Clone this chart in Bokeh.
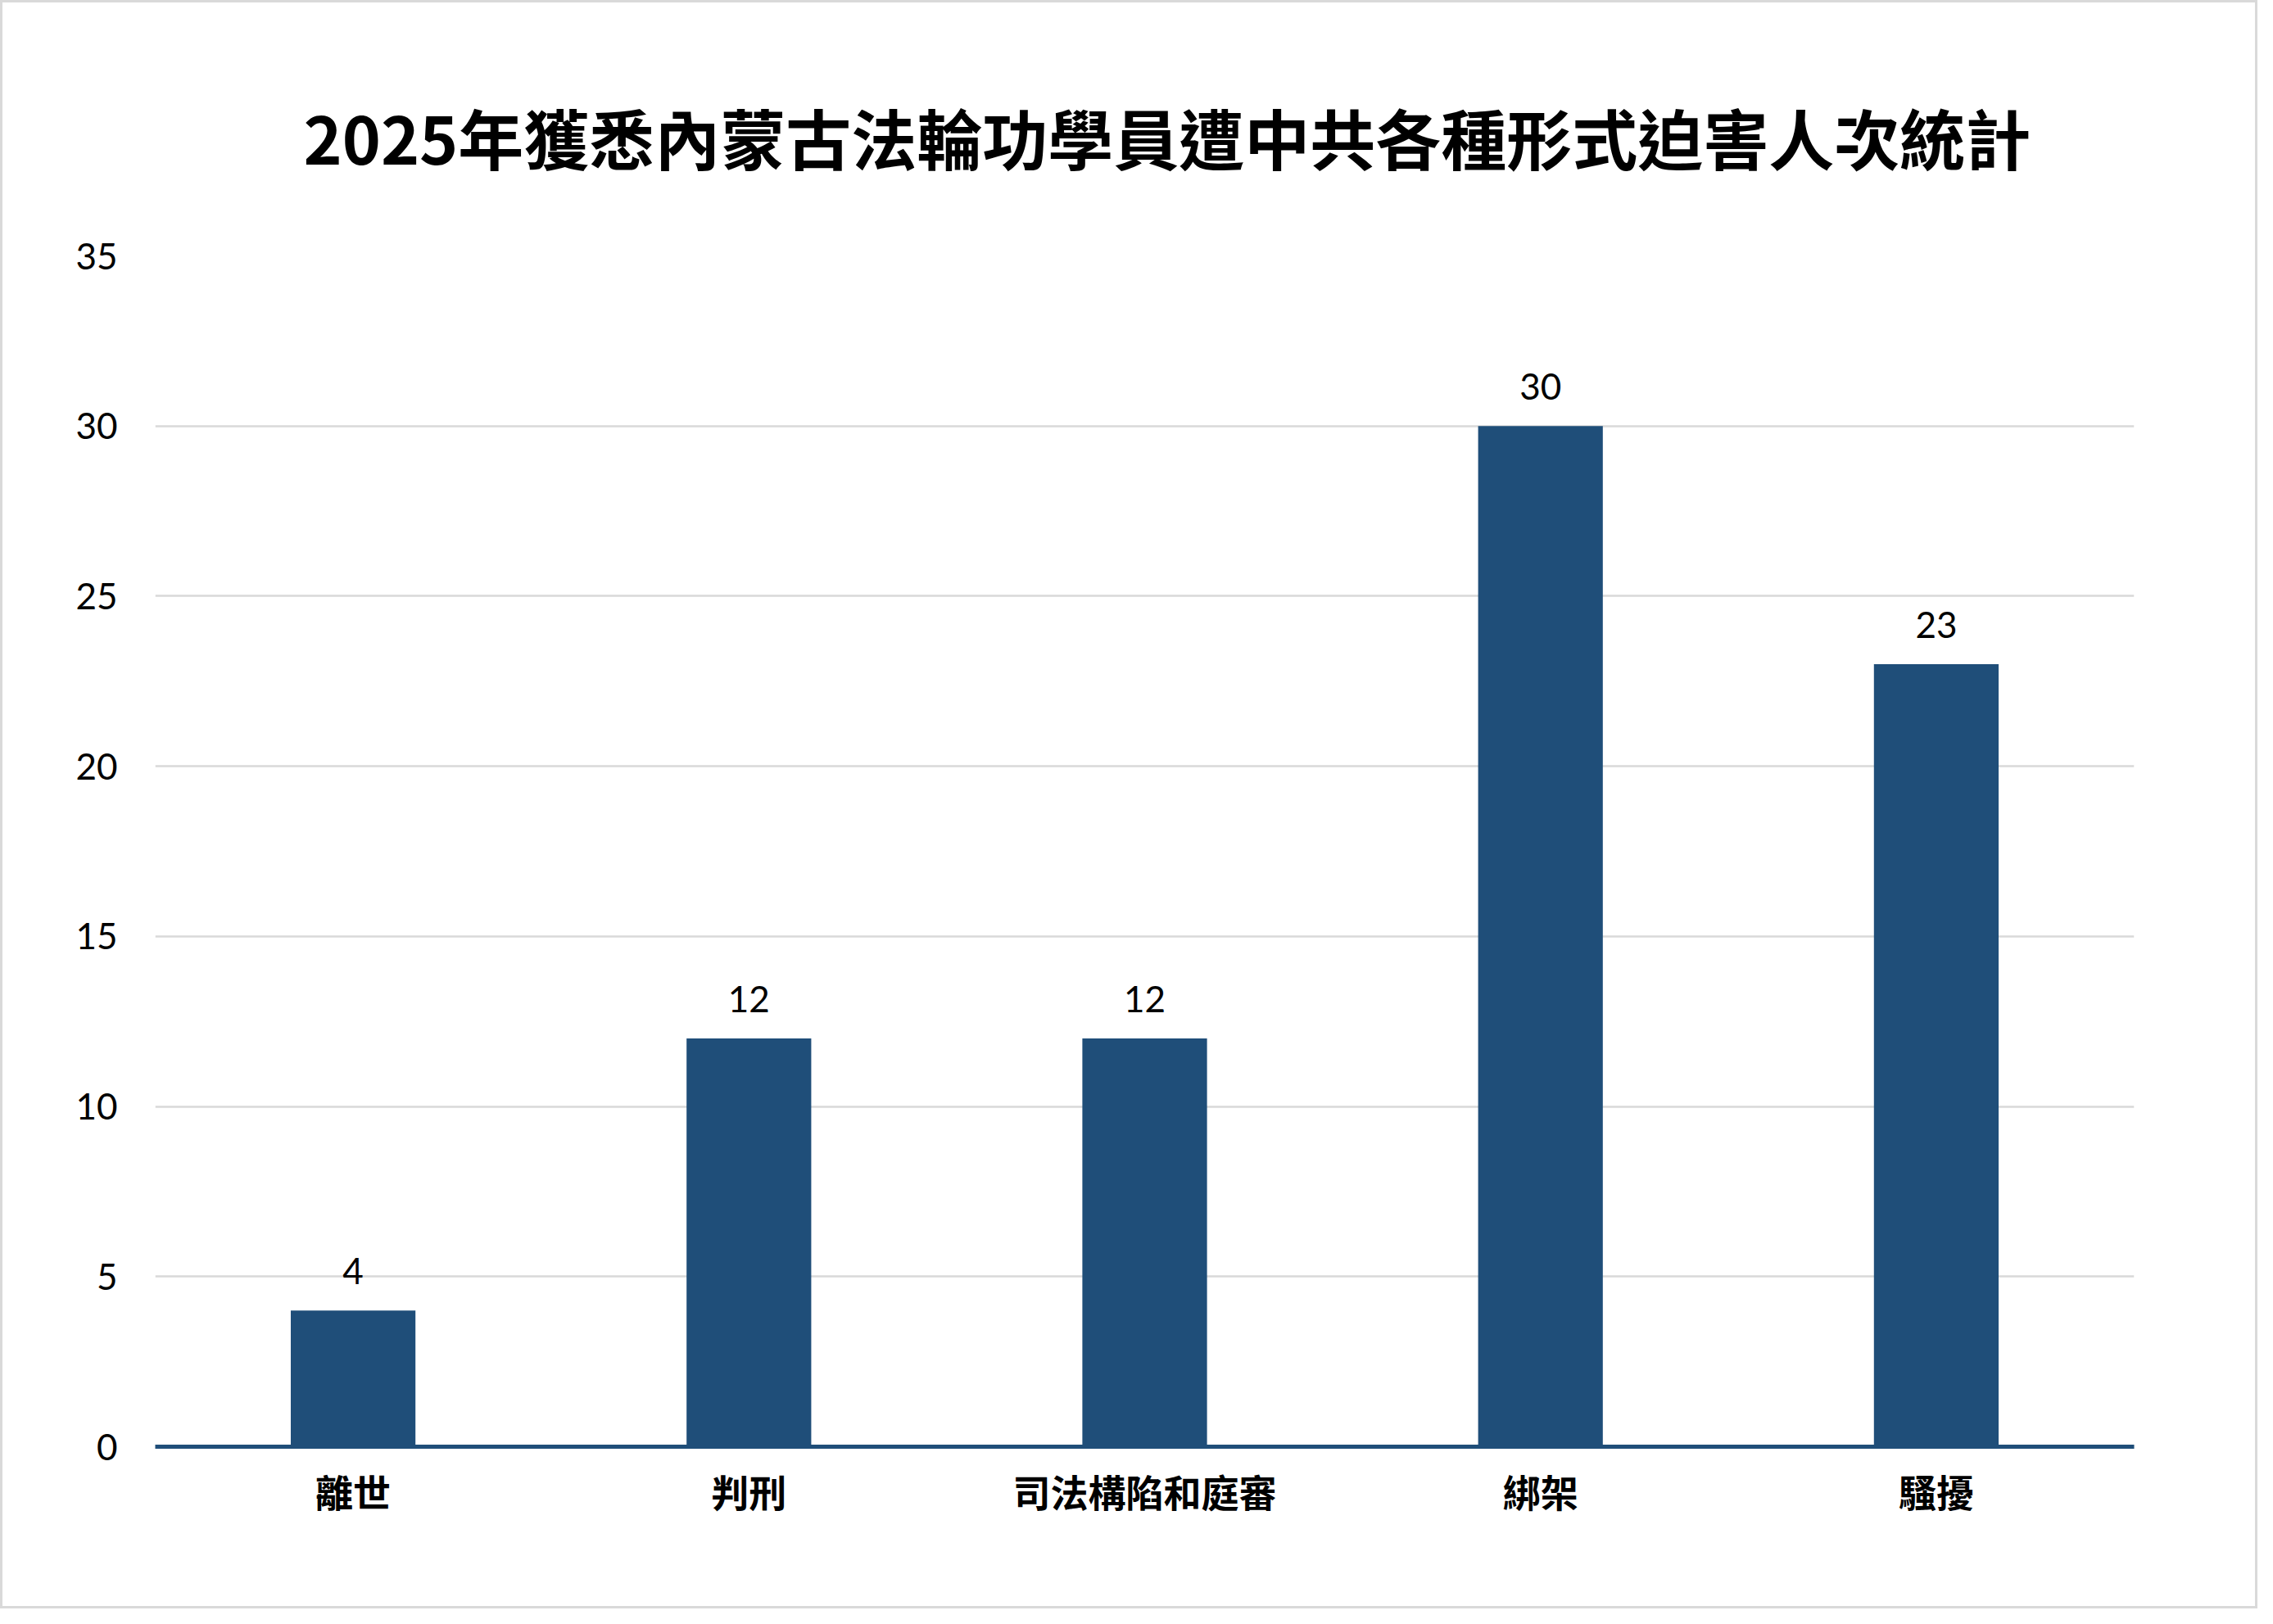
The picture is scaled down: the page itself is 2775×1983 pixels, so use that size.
from bokeh.plotting import figure
from bokeh.models import ColumnDataSource, FactorRange, FixedTicker, LabelSet, Title
from bokeh.core.properties import value
from bokeh.embed import file_html
from bokeh.resources import INLINE

categories = ["離世", "判刑", "司法構陷和庭審", "綁架", "騷擾"]
counts = [4, 12, 12, 30, 23]
y_ticks = [0, 5, 10, 15, 20, 25, 30, 35]
title_text = "2025年獲悉內蒙古法輪功學員遭中共各種形式迫害人次統計"

BAR = "#1F4E79"
GRID = "#D9D9D9"

source = ColumnDataSource(dict(cat=categories, val=counts, lbl=[str(v) for v in counts]))

p = figure(
    x_range=FactorRange(*categories),
    y_range=(0, 35),
    width=2756, height=1964,
    output_backend="svg", toolbar_location=None,
    min_border_left=186, min_border_right=154,
    min_border_top=309, min_border_bottom=201,
)
p.styles = {"border": "3px solid #D9D9D9", "box-sizing": "border-box"}
p.outline_line_color = None
p.background_fill_color = "white"
p.border_fill_color = "white"

p.vbar(x="cat", top="val", width=0.315, source=source, fill_color=BAR, line_color=None)

labels = LabelSet(x="cat", y="val", text="lbl", source=source,
                  text_align="center", text_baseline="middle",
                  y_offset=48, text_font=value("Lato"), text_font_size=value("44px"),
                  text_color=value("black"))
p.add_layout(labels)

t = Title(text=title_text, align="left", offset=181, standoff=178,
          text_font="Noto Sans CJK TC", text_font_size="80px",
          text_font_style="bold", text_color="black")
p.title = t

p.yaxis.ticker = FixedTicker(ticks=y_ticks)
p.yaxis.axis_line_color = None
p.yaxis.major_tick_line_color = None
p.yaxis.minor_tick_line_color = None
p.yaxis.major_label_text_font = "Lato"
p.yaxis.major_label_text_font_size = "44px"
p.yaxis.major_label_text_color = "black"
p.yaxis.major_label_standoff = 40

p.xaxis.axis_line_color = BAR
p.xaxis.axis_line_width = 5
p.xaxis.major_tick_line_color = None
p.xaxis.minor_tick_line_color = None
p.xaxis.major_label_text_font = "Noto Sans CJK TC"
p.xaxis.major_label_text_font_style = "bold"
p.xaxis.major_label_text_font_size = "46px"
p.xaxis.major_label_text_color = "black"
p.xaxis.major_label_standoff = 14

p.xgrid.grid_line_color = None
p.ygrid.grid_line_color = GRID
p.ygrid.grid_line_width = 2.5

open("out.html", "w").write(file_html(p, INLINE))
